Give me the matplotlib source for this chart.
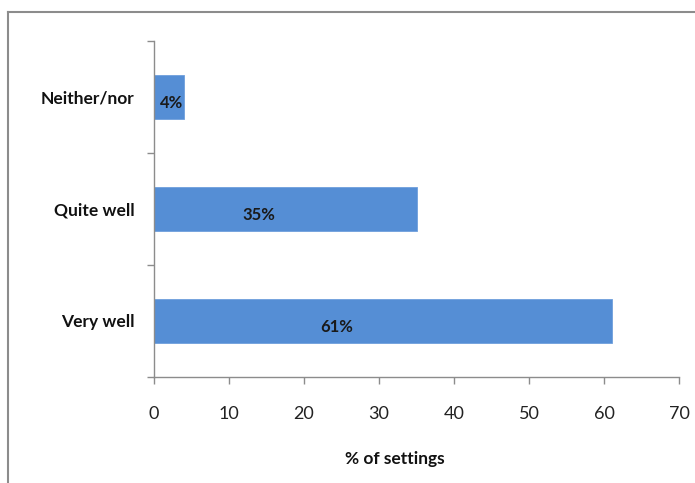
import numpy as np
import matplotlib
matplotlib.use('Agg')
from matplotlib import pyplot as plt
from matplotlib.lines import Line2D

plt.rcParams['font.family'] = ['Lato', 'DejaVu Sans']

categories = ['Very well', 'Quite well', 'Neither/nor']
values = [61, 35, 4]
labels = ['61%', '35%', '4%']
xticks = [0, 10, 20, 30, 40, 50, 60, 70]

bar_color = '#558ed5'
grey = '#8c8c8c'

fig = plt.figure(figsize=(6.95, 4.83), dpi=100)
ax = fig.add_axes([0.2216, 0.2195, 0.7554, 0.6956])

ypos = np.arange(len(categories))
ax.barh(ypos, values, height=0.39, color=bar_color, edgecolor='#6f9fdc', linewidth=0.6)

# data labels sit inside the bar, left of centre
for y, v, lab in zip(ypos, values, labels):
    lx = v * 0.4 if v > 10 else v * 0.6
    ax.text(lx, y - 0.05, lab, ha='center', va='center', fontsize=12,
            fontweight='bold', color='#1a1a1a')

ax.set_xlim(0, 70)
ax.set_ylim(-0.5, 2.5)
ax.set_xticks(xticks)
ax.set_xticklabels([str(t) for t in xticks], fontsize=13, color='#222222')
ax.tick_params(axis='x', length=5, width=1, color=grey, pad=16)

ax.set_yticks([-0.5, 0.5, 1.5, 2.5])
ax.set_yticklabels([])
ax.tick_params(axis='y', which='major', length=5, width=1, color=grey)
ax.set_yticks(ypos, minor=True)
ax.set_yticklabels(categories, minor=True, fontsize=12.5, fontweight='bold', color='#111111')
ax.tick_params(axis='y', which='minor', length=0, pad=14)

for s in ['top', 'right']:
    ax.spines[s].set_visible(False)
for s in ['left', 'bottom']:
    ax.spines[s].set_color(grey)
    ax.spines[s].set_linewidth(1)

ax.set_xlabel('% of settings', fontsize=12.5, fontweight='bold', color='#111111', labelpad=21)
ax.xaxis.label.set_x(0.459)

# chart area border (top and left visible)
fig.add_artist(Line2D([8 / 695, 1], [1 - 12 / 483] * 2, color=grey, lw=1.5))
fig.add_artist(Line2D([8 / 695] * 2, [0, 1 - 12 / 483], color=grey, lw=1.5))

fig.savefig('out.png', dpi=100)
